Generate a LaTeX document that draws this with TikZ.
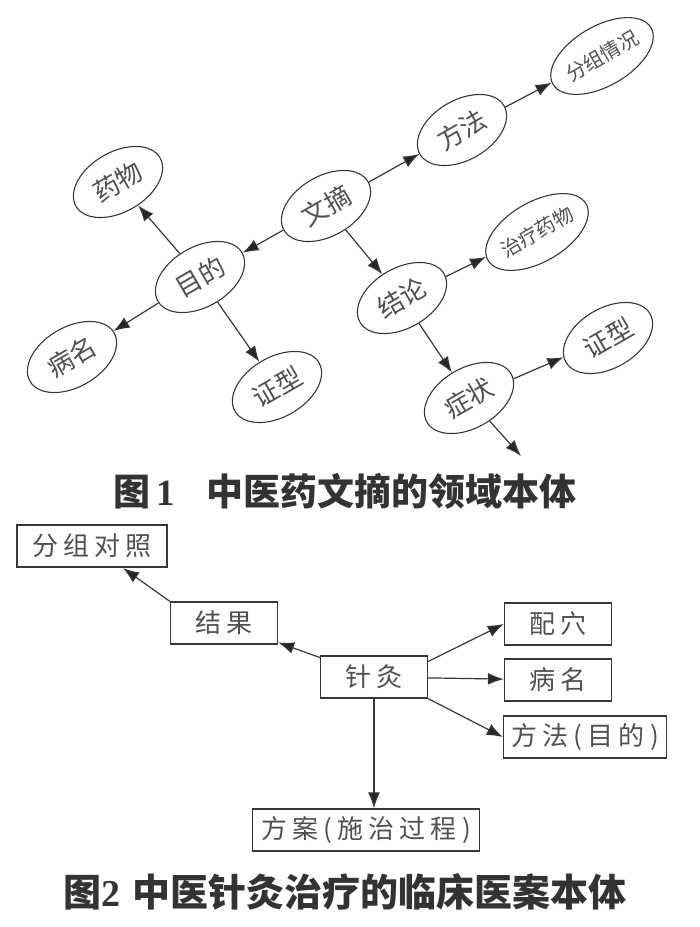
\documentclass[tikz,border=0pt]{standalone}
\usepackage{fontspec}
\newfontfamily\cjk{Noto Sans CJK SC}
\newfontfamily\cjkwide[LetterSpace=20]{Noto Sans CJK SC}
\newfontfamily\numfont{Liberation Serif}
\usetikzlibrary{shapes.geometric,arrows.meta}

\definecolor{inkgray}{RGB}{55,55,55}
\definecolor{textgray}{RGB}{80,80,80}

\tikzset{
  oval/.style={ellipse, draw=inkgray, line width=1.1pt, rotate=30,
    minimum width=97pt, minimum height=60pt, inner sep=0pt,
    text=textgray, font=\cjk\fontsize{26}{26}\selectfont},
  ovalsmall/.style={oval, font=\cjk\fontsize{20}{20}\selectfont},
  box/.style={rectangle, draw=inkgray, line width=1.3pt,
    minimum width=107pt, minimum height=42pt, inner xsep=7pt, inner ysep=0pt,
    text=textgray, font=\cjkwide\fontsize{26}{26}\selectfont},
  arr/.style={-{Latex[length=16pt,width=12pt,fill=black!85]}, draw=inkgray, line width=1.2pt},
  caption/.style={text=black!80, inner sep=0pt}
}

\begin{document}
\begin{tikzpicture}[x=1pt,y=-1pt]
  \useasboundingbox (0,0) rectangle (700,927);

  % figure 1
  \node[oval] at (326,206) (wz) {文摘};
  \node[oval] at (462,130) (ff) {方法};
  \node[ovalsmall] at (602,56) (fzqk) {分组情况};
  \node[oval] at (200,277) (md) {目的};
  \node[oval] at (118,182) (yw) {药物};
  \node[oval] at (72,357) (bm) {病名};
  \node[oval] at (277,387) (zxa) {证型};
  \node[oval] at (402,298) (jl) {结论};
  \node[ovalsmall] at (537,232) (zlyw) {治疗药物};
  \node[oval] at (469,398) (zz) {症状};
  \node[oval] at (608,338) (zxb) {证型};
  \coordinate (zzend) at (521,456);
  \path[] (wz) edge[arr] (ff);
  \path[] (ff) edge[arr] (fzqk);
  \path[] (wz) edge[arr] (md);
  \path[] (md) edge[arr] (yw);
  \path[] (md) edge[arr] (bm);
  \path[] (md) edge[arr] (zxa);
  \path[] (wz) edge[arr] (jl);
  \path[] (jl) edge[arr] (zlyw);
  \path[] (jl) edge[arr] (zz);
  \path[] (zz) edge[arr] (zxb);
  \path[] (zz) edge[arr] (zzend);

  \node[caption] at (345,491) (cap1) {\cjk\bfseries\fontsize{37}{37}\selectfont
    图\,{\numfont\bfseries 1}\hspace{32pt}中医药文摘的领域本体};

  % figure 2
  \node[box, minimum width=150pt, line width=2.2pt] at (92,546) (fzdz) {分组对照};
  \node[box] at (224,623) (jg) {结果};
  \node[box] at (374,677) (zj) {针灸};
  \node[box] at (558,624) (px) {配穴};
  \node[box] at (558,680) (bmb) {病名};
  \node[box, minimum width=163pt] at (585,737) (ffmd) {方法(目的)};
  \node[box, minimum width=227pt] at (366,830) (fa) {方案(施治过程)};
  \path[] (jg.north west) edge[arr] (fzdz);
  \path[] (zj) edge[arr] (jg);
  \path[] (zj.16) edge[arr] (px.west);
  \path[] (zj) edge[arr] (bmb);
  \path[] (zj.south east) edge[arr] (ffmd.west);
  \path[] (zj.south) edge[arr] (zj.south |- fa.north);

  \node[caption] at (345,892) (cap2) {\cjk\bfseries\fontsize{38}{38}\selectfont
    图{\numfont\bfseries 2}\hspace{12pt}中医针灸治疗的临床医案本体};
\end{tikzpicture}
\end{document}
